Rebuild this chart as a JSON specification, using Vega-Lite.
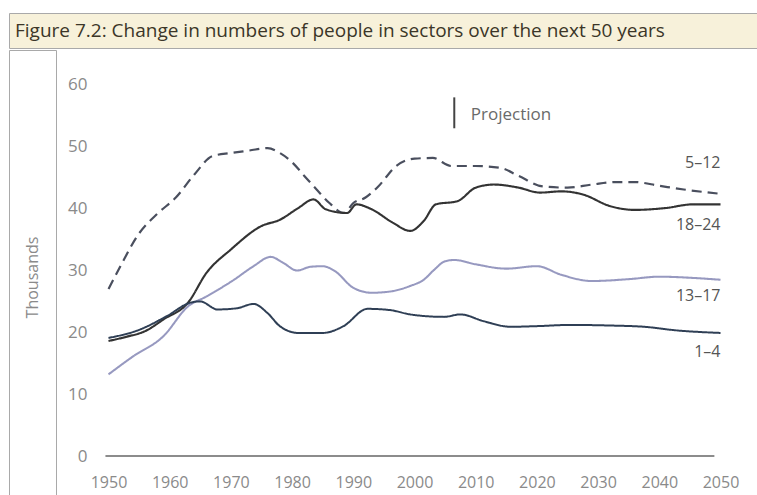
{
  "$schema": "https://vega.github.io/schema/vega-lite/v6.json",
  "padding": {"left": 8, "top": 12, "right": -2, "bottom": -2},
  "spacing": 0,
  "config": {
    "view": {"stroke": null},
    "font": "Open Sans",
    "concat": {"spacing": 0}
  },
  "datasets": {
    "lines": [
      {"series": "5–12", "year": 1950, "value": 27},
      {"series": "5–12", "year": 1952, "value": 30.8},
      {"series": "5–12", "year": 1955, "value": 36},
      {"series": "5–12", "year": 1958, "value": 39.2},
      {"series": "5–12", "year": 1961, "value": 41.8},
      {"series": "5–12", "year": 1964, "value": 45.5},
      {"series": "5–12", "year": 1967, "value": 48.5},
      {"series": "5–12", "year": 1970, "value": 49},
      {"series": "5–12", "year": 1973, "value": 49.4},
      {"series": "5–12", "year": 1976, "value": 49.8},
      {"series": "5–12", "year": 1978, "value": 49},
      {"series": "5–12", "year": 1980, "value": 47.5},
      {"series": "5–12", "year": 1982, "value": 45.3},
      {"series": "5–12", "year": 1984, "value": 43.1},
      {"series": "5–12", "year": 1986, "value": 41},
      {"series": "5–12", "year": 1988.5, "value": 39.3},
      {"series": "5–12", "year": 1990, "value": 40.9},
      {"series": "5–12", "year": 1992, "value": 41.8},
      {"series": "5–12", "year": 1994, "value": 43.5},
      {"series": "5–12", "year": 1997, "value": 46.9},
      {"series": "5–12", "year": 2000, "value": 48.1},
      {"series": "5–12", "year": 2003, "value": 48.2},
      {"series": "5–12", "year": 2006, "value": 46.9},
      {"series": "5–12", "year": 2010, "value": 46.9},
      {"series": "5–12", "year": 2014, "value": 46.6},
      {"series": "5–12", "year": 2017, "value": 45.3},
      {"series": "5–12", "year": 2021, "value": 43.6},
      {"series": "5–12", "year": 2025, "value": 43.4},
      {"series": "5–12", "year": 2029, "value": 43.9},
      {"series": "5–12", "year": 2033, "value": 44.3},
      {"series": "5–12", "year": 2036, "value": 44.3},
      {"series": "5–12", "year": 2040, "value": 43.7},
      {"series": "5–12", "year": 2044, "value": 43.1},
      {"series": "5–12", "year": 2050, "value": 42.4},
      {"series": "18–24", "year": 1950, "value": 18.6},
      {"series": "18–24", "year": 1953, "value": 19.3},
      {"series": "18–24", "year": 1956, "value": 20.2},
      {"series": "18–24", "year": 1959, "value": 22.1},
      {"series": "18–24", "year": 1963, "value": 24.8},
      {"series": "18–24", "year": 1966, "value": 29.6},
      {"series": "18–24", "year": 1970, "value": 33.4},
      {"series": "18–24", "year": 1975, "value": 37.2},
      {"series": "18–24", "year": 1978, "value": 38.2},
      {"series": "18–24", "year": 1981, "value": 40.1},
      {"series": "18–24", "year": 1983.5, "value": 41.5},
      {"series": "18–24", "year": 1985.5, "value": 39.9},
      {"series": "18–24", "year": 1989, "value": 39.3},
      {"series": "18–24", "year": 1990.5, "value": 40.7},
      {"series": "18–24", "year": 1993, "value": 39.9},
      {"series": "18–24", "year": 1996.5, "value": 37.7},
      {"series": "18–24", "year": 1999.3, "value": 36.4},
      {"series": "18–24", "year": 2001.5, "value": 38},
      {"series": "18–24", "year": 2003.5, "value": 40.7},
      {"series": "18–24", "year": 2007, "value": 41.2},
      {"series": "18–24", "year": 2010, "value": 43.4},
      {"series": "18–24", "year": 2013, "value": 43.9},
      {"series": "18–24", "year": 2017, "value": 43.4},
      {"series": "18–24", "year": 2020.5, "value": 42.6},
      {"series": "18–24", "year": 2024, "value": 42.8},
      {"series": "18–24", "year": 2027.5, "value": 42.3},
      {"series": "18–24", "year": 2032, "value": 40.4},
      {"series": "18–24", "year": 2036, "value": 39.8},
      {"series": "18–24", "year": 2041, "value": 40.1},
      {"series": "18–24", "year": 2045.5, "value": 40.7},
      {"series": "18–24", "year": 2050, "value": 40.7},
      {"series": "13–17", "year": 1950, "value": 13.2},
      {"series": "13–17", "year": 1954, "value": 16.1},
      {"series": "13–17", "year": 1959, "value": 19.4},
      {"series": "13–17", "year": 1963, "value": 24.2},
      {"series": "13–17", "year": 1966, "value": 25.8},
      {"series": "13–17", "year": 1970.5, "value": 28.5},
      {"series": "13–17", "year": 1973.7, "value": 30.7},
      {"series": "13–17", "year": 1976.5, "value": 32.2},
      {"series": "13–17", "year": 1978.6, "value": 31.2},
      {"series": "13–17", "year": 1980.8, "value": 30},
      {"series": "13–17", "year": 1983, "value": 30.6},
      {"series": "13–17", "year": 1985, "value": 30.7},
      {"series": "13–17", "year": 1987, "value": 29.9},
      {"series": "13–17", "year": 1990, "value": 27.2},
      {"series": "13–17", "year": 1993, "value": 26.4},
      {"series": "13–17", "year": 1996, "value": 26.6},
      {"series": "13–17", "year": 1999.3, "value": 27.5},
      {"series": "13–17", "year": 2001.5, "value": 28.5},
      {"series": "13–17", "year": 2003.2, "value": 30.1},
      {"series": "13–17", "year": 2005, "value": 31.5},
      {"series": "13–17", "year": 2006.5, "value": 31.7},
      {"series": "13–17", "year": 2010, "value": 31},
      {"series": "13–17", "year": 2015, "value": 30.3},
      {"series": "13–17", "year": 2020, "value": 30.7},
      {"series": "13–17", "year": 2024, "value": 29.3},
      {"series": "13–17", "year": 2029, "value": 28.3},
      {"series": "13–17", "year": 2035, "value": 28.6},
      {"series": "13–17", "year": 2040, "value": 29},
      {"series": "13–17", "year": 2045.5, "value": 28.8},
      {"series": "13–17", "year": 2050, "value": 28.5},
      {"series": "1–4", "year": 1950, "value": 19.1},
      {"series": "1–4", "year": 1955, "value": 20.4},
      {"series": "1–4", "year": 1959.5, "value": 22.6},
      {"series": "1–4", "year": 1963.4, "value": 24.8},
      {"series": "1–4", "year": 1965, "value": 25},
      {"series": "1–4", "year": 1967.8, "value": 23.7},
      {"series": "1–4", "year": 1971, "value": 23.9},
      {"series": "1–4", "year": 1973.7, "value": 24.6},
      {"series": "1–4", "year": 1976, "value": 23.1},
      {"series": "1–4", "year": 1978, "value": 21},
      {"series": "1–4", "year": 1981, "value": 19.9},
      {"series": "1–4", "year": 1985, "value": 19.9},
      {"series": "1–4", "year": 1988.4, "value": 21},
      {"series": "1–4", "year": 1992.3, "value": 23.8},
      {"series": "1–4", "year": 1996, "value": 23.6},
      {"series": "1–4", "year": 1999.3, "value": 22.9},
      {"series": "1–4", "year": 2004.8, "value": 22.5},
      {"series": "1–4", "year": 2007.5, "value": 22.9},
      {"series": "1–4", "year": 2011.3, "value": 21.8},
      {"series": "1–4", "year": 2015.7, "value": 20.9},
      {"series": "1–4", "year": 2020, "value": 21},
      {"series": "1–4", "year": 2025.5, "value": 21.2},
      {"series": "1–4", "year": 2032, "value": 21.1},
      {"series": "1–4", "year": 2037.5, "value": 20.9},
      {"series": "1–4", "year": 2043, "value": 20.3},
      {"series": "1–4", "year": 2050, "value": 19.9}
    ],
    "labels": [
      {"series": "5–12", "year": 2050, "value": 47.4},
      {"series": "18–24", "year": 2050, "value": 37.4},
      {"series": "13–17", "year": 2050, "value": 25.9},
      {"series": "1–4", "year": 2050, "value": 16.9}
    ],
    "base": [{"start": 1949.5, "end": 2049, "v": 0}],
    "proj": [{"year": 2006.5, "lo": 53, "hi": 58, "textYear": 2009.2, "textValue": 55.2, "label": "Projection"}]
  },
  "vconcat": [
    {
      "width": 750,
      "height": 35,
      "view": {"fill": "#f7f1da", "stroke": "#a9a9a9", "strokeWidth": 1},
      "data": {"values": [{"t": "Figure 7.2: Change in numbers of people in sectors over the next 50 years"}]},
      "mark": {"type": "text", "align": "left", "baseline": "middle", "dx": -369, "font": "Open Sans", "fontSize": 19, "color": "#3b3628"},
      "encoding": {"text": {"field": "t"}}
    },
    {
      "spacing": 0,
      "hconcat": [
        {
          "width": 47,
          "height": 449,
          "view": {"stroke": "#a9a9a9", "strokeWidth": 1},
          "data": {"values": [{"t": "Thousands"}]},
          "mark": {"type": "text", "angle": 270, "fontSize": 16, "color": "#8a8a8a", "dx": -3, "baseline": "middle", "align": "center"},
          "encoding": {"text": {"field": "t"}}
        },
        {
          "width": 703,
          "height": 449,
          "layer": [
            {
              "data": {"name": "base"},
              "mark": {"type": "rule", "color": "#8c8c8c", "strokeWidth": 2},
              "encoding": {
                "x": {"field": "start", "type": "quantitative",
                  "scale": {"domain": [1941.585, 2056.454], "nice": false, "zero": false},
                  "axis": {"values": [1950, 1960, 1970, 1980, 1990, 2000, 2010, 2020, 2030, 2040, 2050], "title": null, "orient": "bottom", "offset": -43, "domain": false, "ticks": false, "grid": false, "labelPadding": 26, "labelBaseline": "middle", "labelFontSize": 16, "labelColor": "#8a8a8a", "format": "d", "labelFlush": false, "labelOverlap": false}},
                "x2": {"field": "end"},
                "y": {"field": "v", "type": "quantitative",
                  "scale": {"domain": [-6.954, 65.66], "nice": false, "zero": false},
                  "axis": {"values": [0, 10, 20, 30, 40, 50, 60], "title": null, "domain": false, "ticks": false, "tickSize": 0, "grid": false, "labelPadding": -30, "labelAlign": "right", "labelBaseline": "middle", "labelFontSize": 17, "labelColor": "#8a8a8a", "labelFlush": false, "labelOverlap": false}}
              }
            },
            {
              "data": {"name": "lines"},
              "mark": {"type": "line", "interpolate": "monotone"},
              "encoding": {
                "x": {"field": "year", "type": "quantitative", "scale": {"domain": [1941.585, 2056.454], "nice": false, "zero": false}},
                "y": {"field": "value", "type": "quantitative", "scale": {"domain": [-6.954, 65.66], "nice": false, "zero": false}},
                "color": {"field": "series", "type": "nominal", "scale": {"domain": ["5–12", "18–24", "13–17", "1–4"], "range": ["#4a4f5e", "#333333", "#9799c0", "#2f3f55"]}, "legend": null},
                "strokeDash": {"field": "series", "type": "nominal", "scale": {"domain": ["5–12", "18–24", "13–17", "1–4"], "range": [[10, 6], [1, 0], [1, 0], [1, 0]]}, "legend": null},
                "strokeWidth": {"field": "series", "type": "nominal", "scale": {"domain": ["5–12", "18–24", "13–17", "1–4"], "range": [2.2, 2, 1.6, 2]}, "legend": null}
              }
            },
            {
              "data": {"name": "labels"},
              "mark": {"type": "text", "align": "right", "baseline": "middle", "fontSize": 16, "color": "#555555"},
              "encoding": {
                "x": {"field": "year", "type": "quantitative", "scale": {"domain": [1941.585, 2056.454], "nice": false, "zero": false}},
                "y": {"field": "value", "type": "quantitative", "scale": {"domain": [-6.954, 65.66], "nice": false, "zero": false}},
                "text": {"field": "series"}
              }
            },
            {
              "data": {"name": "proj"},
              "mark": {"type": "rule", "color": "#444444", "strokeWidth": 2},
              "encoding": {
                "x": {"field": "year", "type": "quantitative", "scale": {"domain": [1941.585, 2056.454], "nice": false, "zero": false}},
                "y": {"field": "lo", "type": "quantitative", "scale": {"domain": [-6.954, 65.66], "nice": false, "zero": false}},
                "y2": {"field": "hi"}
              }
            },
            {
              "data": {"name": "proj"},
              "mark": {"type": "text", "align": "left", "baseline": "middle", "fontSize": 17, "color": "#6a6a6a"},
              "encoding": {
                "x": {"field": "textYear", "type": "quantitative", "scale": {"domain": [1941.585, 2056.454], "nice": false, "zero": false}},
                "y": {"field": "textValue", "type": "quantitative", "scale": {"domain": [-6.954, 65.66], "nice": false, "zero": false}},
                "text": {"field": "label"}
              }
            }
          ]
        }
      ]
    }
  ]
}
